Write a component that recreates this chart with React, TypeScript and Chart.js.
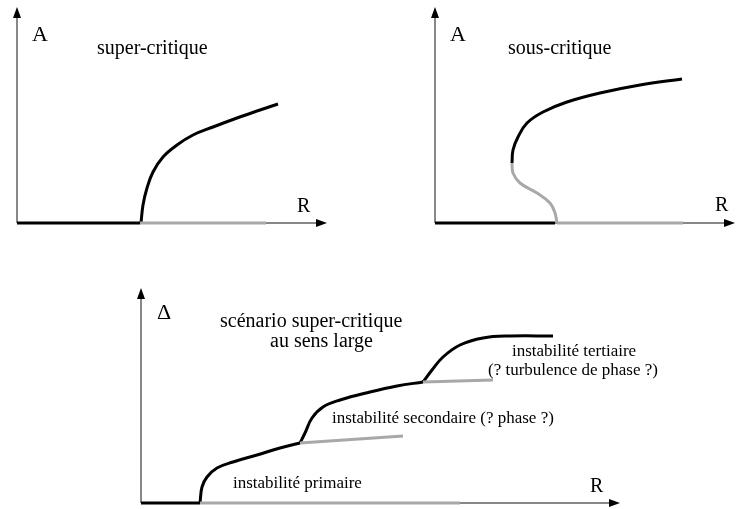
import React, { useEffect, useRef } from "react";
import { Chart, registerables } from "chart.js";

Chart.register(...registerables);

const FONT = '"Liberation Serif", "Times New Roman", serif';
const BLACK = "#000000";
const GRAY = "#a8a8a8";

// ---------- Panel 1 : super-critique ----------
const p1StableBaseR = [0, 12.3];
const p1StableBaseA = [0, 0];
const p1UnstableBaseR = [12.3, 24.9];
const p1UnstableBaseA = [0, 0];
const p1BranchR = [12.4, 12.6, 13.0, 13.6, 14.6, 16.0, 17.6, 19.6, 22.0, 24.0, 26.1];
const p1BranchA = [0.0, 1.8, 3.5, 5.1, 6.6, 7.8, 8.8, 9.6, 10.5, 11.2, 11.9];

// ---------- Panel 2 : sous-critique ----------
const p2StableBaseR = [0, 12.0];
const p2StableBaseA = [0, 0];
const p2UnstableBaseR = [12.2, 24.8];
const p2UnstableBaseA = [0, 0];
const p2UnstableBranchR = [12.2, 12.0, 11.5, 10.2, 8.5, 7.8, 7.7];
const p2UnstableBranchA = [0.0, 1.0, 2.0, 3.0, 4.0, 5.0, 6.0];
const p2StableBranchR = [7.7, 7.8, 8.3, 9.2, 10.8, 13.2, 16.5, 20.5, 24.7];
const p2StableBranchA = [6.0, 7.3, 8.6, 10.0, 11.1, 12.1, 13.0, 13.8, 14.4];

// ---------- Panel 3 : scénario super-critique au sens large ----------
const p3StableBaseR = [0, 5.9];
const p3StableBaseD = [0, 0];
const p3UnstableBaseR = [5.9, 31.9];
const p3UnstableBaseD = [0, 0];
const p3PrimaryR = [5.9, 6.1, 6.6, 7.6, 9.2, 11.6, 13.9, 15.9];
const p3PrimaryD = [0.0, 1.6, 2.6, 3.5, 4.1, 4.8, 5.5, 6.0];
const p3PrimaryUnstableR = [15.9, 26.2];
const p3PrimaryUnstableD = [6.0, 6.7];
const p3SecondaryR = [15.9, 16.4, 17.1, 18.2, 19.9, 22.9, 25.6, 28.2];
const p3SecondaryD = [6.0, 7.0, 8.5, 9.6, 10.3, 11.1, 11.7, 12.1];
const p3SecondaryUnstableR = [28.2, 35.2];
const p3SecondaryUnstableD = [12.1, 12.3];
const p3TertiaryR = [28.2, 29.1, 30.2, 31.9, 34.2, 36.9, 41.2];
const p3TertiaryD = [12.1, 13.3, 14.6, 15.8, 16.5, 16.7, 16.7];

type Pt = { x: number; y: number };
const zip = (xs: number[], ys: number[]): Pt[] => xs.map((x, i) => ({ x, y: ys[i] }));

type Label = { text: string; x: number; y: number; size: number };
type Series = { data: Pt[]; color: string };
type Panel = {
  left: number;
  top: number;
  width: number;
  height: number;
  xMin: number;
  xMax: number;
  yMin: number;
  yMax: number;
  xTip: number;
  yTip: number;
  series: Series[];
  labels: Label[];
};

const panels: Panel[] = [
  {
    left: 0, top: 0, width: 340, height: 235,
    xMin: -1.7, xMax: 32.3, yMin: -1.2, yMax: 22.3,
    xTip: 31.0, yTip: 21.6,
    series: [
      { data: zip(p1UnstableBaseR, p1UnstableBaseA), color: GRAY },
      { data: zip(p1StableBaseR, p1StableBaseA), color: BLACK },
      { data: zip(p1BranchR, p1BranchA), color: BLACK },
    ],
    labels: [
      { text: "A", x: 1.5, y: 18.2, size: 22 },
      { text: "super-critique", x: 8.0, y: 16.9, size: 20 },
      { text: "R", x: 28.0, y: 1.1, size: 20 },
    ],
  },
  {
    left: 400, top: 0, width: 336, height: 235,
    xMin: -3.5, xMax: 30.1, yMin: -1.2, yMax: 22.3,
    xTip: 30.0, yTip: 21.6,
    series: [
      { data: zip(p2UnstableBaseR, p2UnstableBaseA), color: GRAY },
      { data: zip(p2StableBaseR, p2StableBaseA), color: BLACK },
      { data: zip(p2UnstableBranchR, p2UnstableBranchA), color: GRAY },
      { data: zip(p2StableBranchR, p2StableBranchA), color: BLACK },
    ],
    labels: [
      { text: "A", x: 1.5, y: 18.2, size: 22 },
      { text: "sous-critique", x: 7.3, y: 16.9, size: 20 },
      { text: "R", x: 28.0, y: 1.2, size: 20 },
    ],
  },
  {
    left: 120, top: 270, width: 600, height: 239,
    xMin: -2.1, xMax: 57.9, yMin: -0.6, yMax: 23.3,
    xTip: 47.9, yTip: 21.5,
    series: [
      { data: zip(p3UnstableBaseR, p3UnstableBaseD), color: GRAY },
      { data: zip(p3PrimaryUnstableR, p3PrimaryUnstableD), color: GRAY },
      { data: zip(p3SecondaryUnstableR, p3SecondaryUnstableD), color: GRAY },
      { data: zip(p3StableBaseR, p3StableBaseD), color: BLACK },
      { data: zip(p3PrimaryR, p3PrimaryD), color: BLACK },
      { data: zip(p3SecondaryR, p3SecondaryD), color: BLACK },
      { data: zip(p3TertiaryR, p3TertiaryD), color: BLACK },
    ],
    labels: [
      { text: "Δ", x: 1.6, y: 18.4, size: 22 },
      { text: "scénario super-critique", x: 7.9, y: 17.6, size: 20 },
      { text: "au sens large", x: 12.9, y: 15.6, size: 20 },
      { text: "instabilité tertiaire", x: 37.1, y: 14.7, size: 17 },
      { text: "(? turbulence de phase ?)", x: 34.7, y: 12.8, size: 17 },
      { text: "instabilité secondaire (? phase ?)", x: 19.1, y: 8.0, size: 17 },
      { text: "instabilité primaire", x: 9.2, y: 1.5, size: 17 },
      { text: "R", x: 44.9, y: 1.1, size: 20 },
    ],
  },
];

const schemaPlugin = {
  id: "schema",
  beforeDatasetsDraw(chart: any) {
    const cfg = chart.options.plugins.schema;
    if (!cfg) return;
    const ctx = chart.ctx;
    const xs = chart.scales.x;
    const ys = chart.scales.y;
    const x0 = xs.getPixelForValue(0);
    const y0 = ys.getPixelForValue(0);
    const xt = xs.getPixelForValue(cfg.xTip);
    const yt = ys.getPixelForValue(cfg.yTip);
    ctx.save();
    ctx.strokeStyle = "#111";
    ctx.fillStyle = "#000";
    ctx.lineWidth = 1;
    ctx.beginPath();
    ctx.moveTo(x0, y0);
    ctx.lineTo(xt - 8, y0);
    ctx.stroke();
    ctx.beginPath();
    ctx.moveTo(xt, y0);
    ctx.lineTo(xt - 11, y0 - 4);
    ctx.lineTo(xt - 11, y0 + 4);
    ctx.closePath();
    ctx.fill();
    ctx.beginPath();
    ctx.moveTo(x0, y0);
    ctx.lineTo(x0, yt + 8);
    ctx.stroke();
    ctx.beginPath();
    ctx.moveTo(x0, yt);
    ctx.lineTo(x0 - 4, yt + 11);
    ctx.lineTo(x0 + 4, yt + 11);
    ctx.closePath();
    ctx.fill();
    ctx.restore();
  },
  afterDatasetsDraw(chart: any) {
    const cfg = chart.options.plugins.schema;
    if (!cfg) return;
    const ctx = chart.ctx;
    const xs = chart.scales.x;
    const ys = chart.scales.y;
    ctx.save();
    ctx.fillStyle = "#000";
    ctx.textAlign = "left";
    ctx.textBaseline = "alphabetic";
    for (const l of cfg.labels as Label[]) {
      ctx.font = `${l.size}px ${FONT}`;
      ctx.fillText(l.text, xs.getPixelForValue(l.x), ys.getPixelForValue(l.y));
    }
    ctx.restore();
  },
};

function PanelChart({ panel }: { panel: Panel }) {
  const ref = useRef<HTMLCanvasElement | null>(null);
  useEffect(() => {
    if (!ref.current) return;
    const chart = new Chart(ref.current, {
      type: "scatter",
      data: {
        datasets: panel.series.map((s) => ({
          data: s.data,
          showLine: true,
          borderColor: s.color,
          backgroundColor: s.color,
          borderWidth: 3,
          pointRadius: 0,
          pointHoverRadius: 0,
          tension: 0.4,
          borderCapStyle: "butt",
          borderJoinStyle: "round",
        })),
      },
      options: {
        animation: false,
        responsive: false,
        devicePixelRatio: 1,
        layout: { padding: 0 },
        events: [],
        scales: {
          x: { type: "linear", min: panel.xMin, max: panel.xMax, display: false },
          y: { type: "linear", min: panel.yMin, max: panel.yMax, display: false },
        },
        plugins: {
          legend: { display: false },
          tooltip: { enabled: false },
          schema: { xTip: panel.xTip, yTip: panel.yTip, labels: panel.labels },
        } as any,
      },
      plugins: [schemaPlugin],
    } as any);
    return () => chart.destroy();
  }, [panel]);
  return (
    <canvas
      ref={ref}
      width={panel.width}
      height={panel.height}
      style={{ position: "absolute", left: panel.left, top: panel.top, width: panel.width, height: panel.height }}
    />
  );
}

export default function App() {
  return (
    <div style={{ position: "fixed", left: 0, top: 0, width: 736, height: 509, background: "#fff", overflow: "hidden" }}>
      {panels.map((p, i) => (
        <PanelChart key={i} panel={p} />
      ))}
    </div>
  );
}
